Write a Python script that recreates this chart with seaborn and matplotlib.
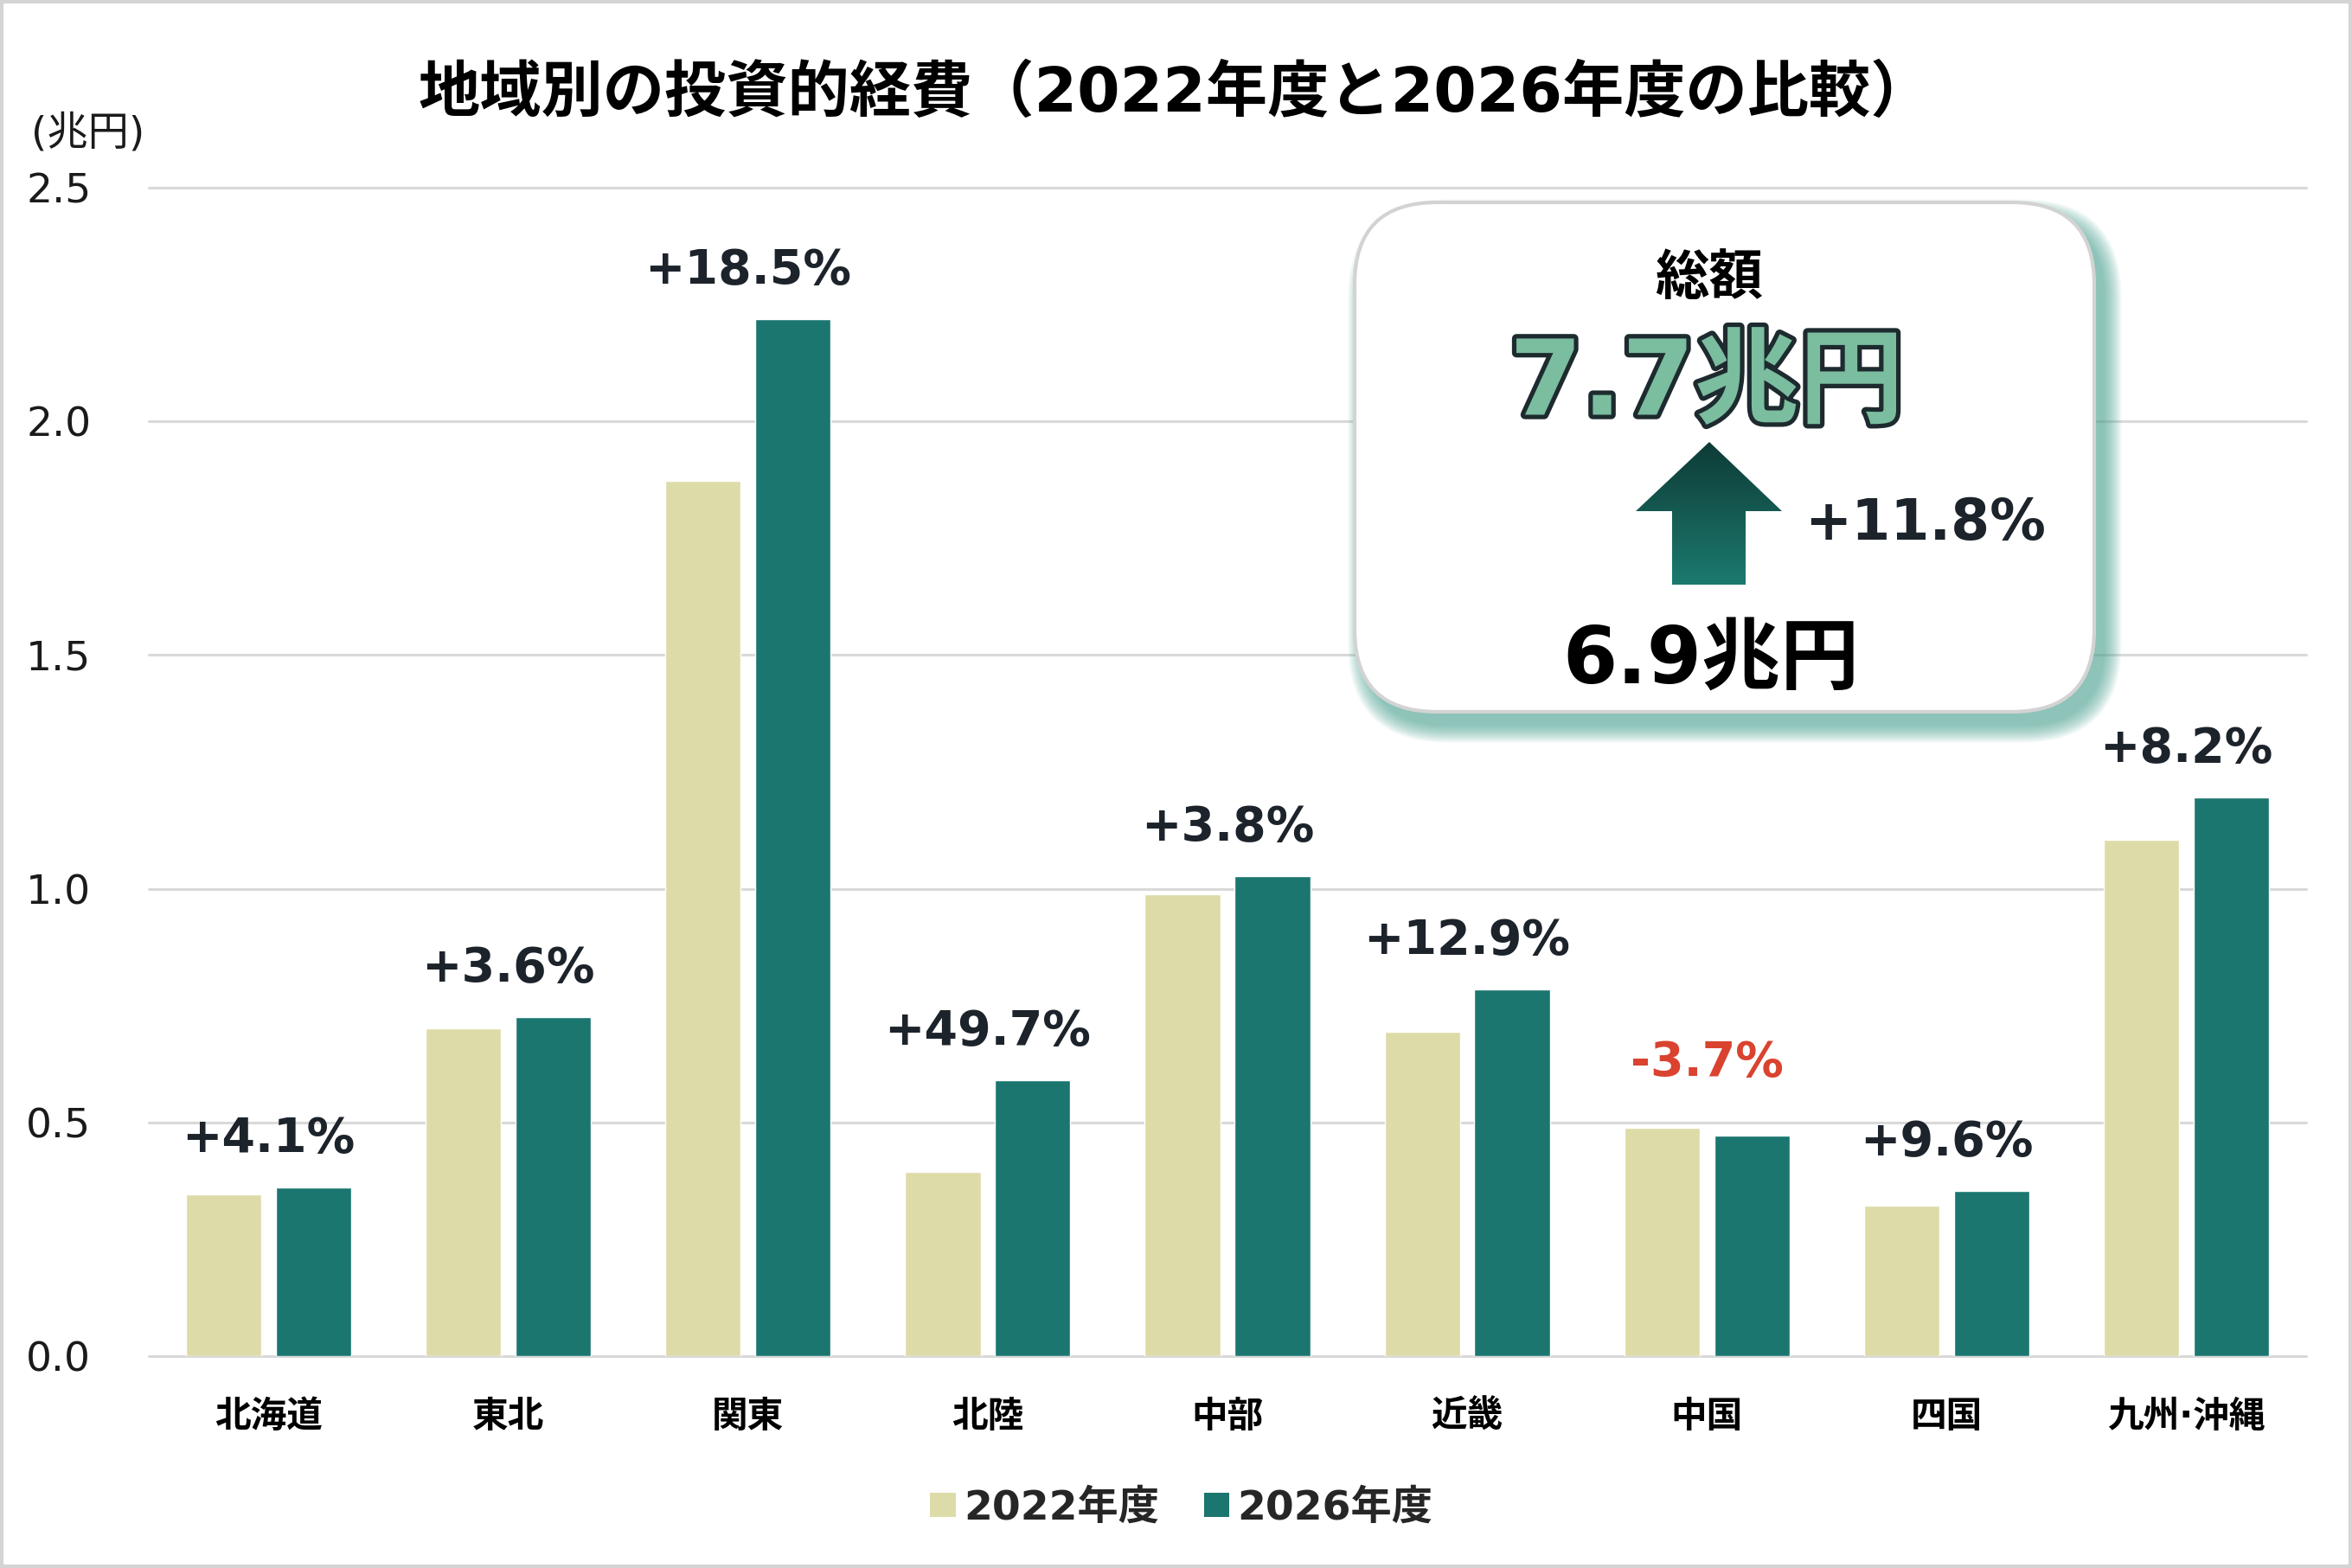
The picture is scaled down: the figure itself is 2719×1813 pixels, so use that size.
import numpy as np
import pandas as pd
import matplotlib
matplotlib.use("Agg")
import matplotlib.pyplot as plt
import seaborn as sns
from matplotlib.patches import FancyBboxPatch, Polygon, Rectangle, Patch
import matplotlib.patheffects as pe

# ---------------- data ----------------
regions = ["北海道", "東北", "関東", "北陸", "中部", "近畿", "中国", "四国", "九州·沖縄"]
values_2022 = [0.346, 0.701, 1.872, 0.394, 0.989, 0.694, 0.489, 0.322, 1.105]
values_2026 = [0.360, 0.726, 2.219, 0.590, 1.027, 0.784, 0.471, 0.353, 1.196]
pct_change = [4.1, 3.6, 18.5, 49.7, 3.8, 12.9, -3.7, 9.6, 8.2]
series_labels = ["2022年度", "2026年度"]
y_ticks = [0.0, 0.5, 1.0, 1.5, 2.0, 2.5]
title = "地域別の投資的経費（2022年度と2026年度の比較）"
unit_label = "(兆円)"
total_label = "総額"

# ---------------- style ----------------
C22 = "#dddca9"
C26 = "#1b7670"
DARK = "#1c232b"
RED = "#d9432f"
GRID = "#d9d9d9"

sns.set_style("white")
plt.rcParams["font.family"] = ["DejaVu Sans", "Noto Sans CJK JP"]

W, H = 2719, 1813
fig = plt.figure(figsize=(W / 100, H / 100), dpi=100)
fig.patch.set_facecolor("white")

ax = fig.add_axes([172 / W, (H - 1568) / H, (2666 - 172) / W, (1568 - 217) / H])

df = pd.DataFrame({
    "region": regions * 2,
    "year": [series_labels[0]] * len(regions) + [series_labels[1]] * len(regions),
    "value": values_2022 + values_2026,
})

sns.barplot(data=df, x="region", y="value", hue="year", order=regions,
            hue_order=series_labels, palette=[C22, C26], saturation=1,
            width=0.75, gap=0.16, errorbar=None, legend=False, ax=ax, zorder=3)

ax.set_xlim(-0.5, len(regions) - 0.5)
ax.set_ylim(0, 2.5)
ax.set_yticks(y_ticks)
ax.set_yticklabels([f"{t:.1f}" for t in y_ticks])
ax.set_axisbelow(True)
ax.yaxis.grid(True, color=GRID, lw=2.2)
ax.xaxis.grid(False)
for gl in ax.yaxis.get_gridlines():
    gl.set_clip_on(False)
for s in ax.spines.values():
    s.set_visible(False)
ax.set_xlabel("")
ax.set_ylabel("")
ax.tick_params(axis="y", length=0, pad=48, labelsize=34, labelcolor="#1a1a1a")
ax.tick_params(axis="x", length=0, pad=35, labelsize=30, labelcolor="#000000")
for lbl in ax.get_xticklabels():
    lbl.set_fontweight("bold")

# change labels
for i, p in enumerate(pct_change):
    top = max(values_2022[i], values_2026[i])
    lift = 0.076 if p >= 0 else 0.111
    ax.text(i, top + lift, f"{p:+.1f}%", ha="center", va="baseline",
            fontsize=40, fontweight="bold", color=RED if p < 0 else DARK, zorder=5)

# ---------------- overlay (pixel coordinates) ----------------
ov = fig.add_axes([0, 0, 1, 1], zorder=10)
ov.set_xlim(0, W)
ov.set_ylim(H, 0)
ov.axis("off")
ov.patch.set_alpha(0)

ov.add_patch(Rectangle((2, 2), W - 4, H - 4, fill=False, edgecolor="#d4d4d4", lw=3))

ov.text(1359, 109, title, ha="center", va="center", fontsize=51.3, fontweight="bold", color="black")
ov.text(36, 155, unit_label, ha="left", va="center", fontsize=34, color="#1a1a1a")

# summary box
bx, by, bw, bh = 1566, 234, 855, 589
for k in range(14):
    grow = k * 1.5
    ov.add_patch(FancyBboxPatch((bx + 12 - grow, by + 16 - grow), bw + 2 * grow, bh + 2 * grow,
                                boxstyle=f"round,pad=0,rounding_size={95 + grow}",
                                facecolor="#4fa595", edgecolor="none", alpha=0.065))
ov.add_patch(FancyBboxPatch((bx, by), bw, bh, boxstyle="round,pad=0,rounding_size=95",
                            facecolor="white", edgecolor="#d3d3d3", lw=3))

total22 = sum(values_2022)
total26 = sum(values_2026)
growth = (total26 / total22 - 1) * 100

ov.text(1976, 323, total_label, ha="center", va="center", fontsize=45, fontweight="bold", color="black")
ov.text(1973, 446, f"{total26:.1f}兆円", ha="center", va="center", fontsize=87, fontweight="bold",
        color="#7bbd9f", path_effects=[pe.withStroke(linewidth=7.5, foreground="#1d2b2f")])
ov.text(1978, 765, f"{total22:.1f}兆円", ha="center", va="center", fontsize=65.5, fontweight="bold", color="black")
ov.text(2086, 606, f"{growth:+.1f}%", ha="left", va="center", fontsize=46.5, fontweight="bold", color=DARK)

# gradient arrow
arrow_pts = [(1933, 676), (1933, 591), (1891, 591), (1976, 511), (2060, 591), (2018, 591), (2018, 676)]
arrow = Polygon(arrow_pts, closed=True, facecolor="none", edgecolor="none")
ov.add_patch(arrow)
c_top = np.array([14, 59, 54]) / 255
c_bot = np.array([28, 122, 111]) / 255
t = np.linspace(0, 1, 200)[:, None, None]
grad = c_top[None, None, :] * (1 - t) + c_bot[None, None, :] * t
im = ov.imshow(grad, extent=(1891, 2060, 676, 511), aspect="auto", origin="upper", zorder=4)
im.set_clip_path(arrow)
ov.set_xlim(0, W)
ov.set_ylim(H, 0)

# legend
handles = [Patch(facecolor=C22, edgecolor="none"), Patch(facecolor=C26, edgecolor="none")]
fig.legend(handles, series_labels, loc="center", bbox_to_anchor=(1366 / W, 1 - 1744 / H), ncol=2,
           frameon=False, prop={"weight": "bold", "size": 34}, handlelength=0.62, handleheight=0.55,
           handletextpad=0.2, columnspacing=1.1)

fig.savefig("out.png", dpi=100, facecolor="white")
